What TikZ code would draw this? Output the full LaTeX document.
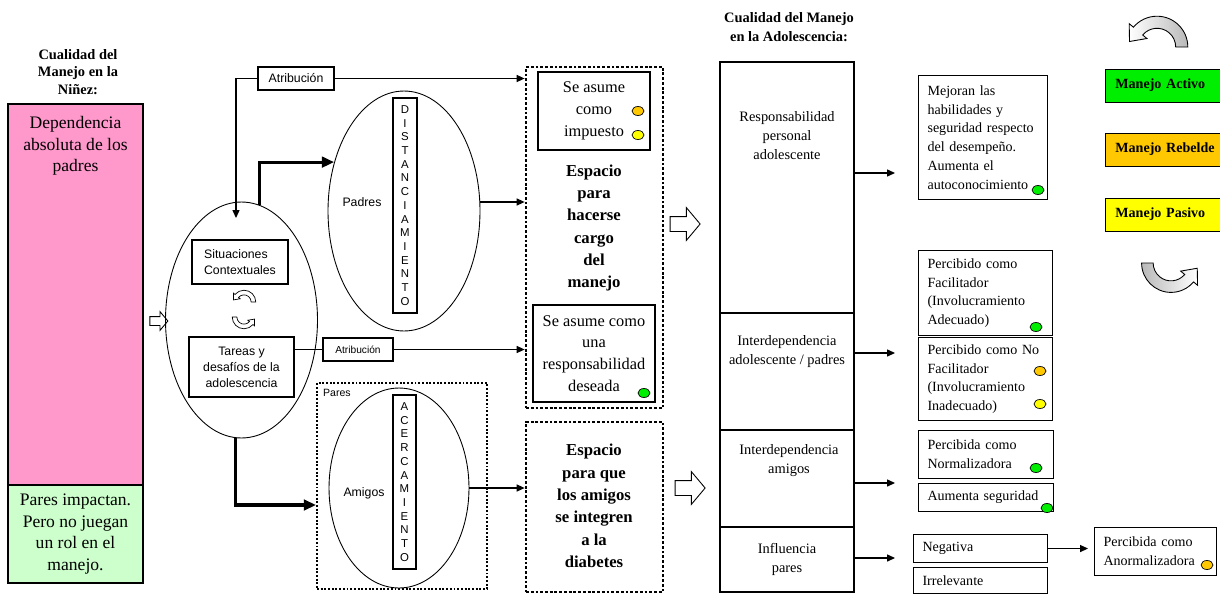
\documentclass[tikz,border=0pt]{standalone}
\usepackage{fontspec}
\setmainfont{Liberation Serif}
\setsansfont{Liberation Sans}
\usetikzlibrary{shapes.geometric, shapes.arrows, arrows.meta, positioning, calc}
\definecolor{pinkfill}{RGB}{255,153,204}
\definecolor{mintfill}{RGB}{204,255,204}
\definecolor{mgreen}{RGB}{0,238,0}
\definecolor{morange}{RGB}{255,200,0}
\definecolor{myellow}{RGB}{255,255,0}

\begin{document}
\begin{tikzpicture}[
  x=0.02cm, y=-0.02cm,
  >={Triangle[length=4.5pt,width=4pt]},
  hdr/.style={align=center, font=\bfseries\fontsize{8.2}{10}\selectfont},
  fatbox/.style={rectangle, draw, line width=1.6pt, inner sep=0pt, align=center},
  sanstxt/.style={align=center, font=\sffamily\fontsize{7}{9.2}\selectfont},
  sansbox/.style={rectangle, draw, line width=1.2pt, inner sep=0pt, sanstxt},
  letters/.style={rectangle, draw, line width=0.8pt, inner sep=0pt,
    align=center, font=\sffamily\fontsize{6.5}{7.8}\selectfont},
  oval/.style={ellipse, draw, inner sep=0pt, line width=0.5pt},
  dotbox/.style={rectangle, draw, line width=1.6pt,
    dash pattern=on 1.6pt off 1.1pt, inner sep=0pt},
  boldtxt/.style={align=center, font=\bfseries\fontsize{9.5}{12.7}\selectfont},
  midtxt/.style={align=center, font=\fontsize{9.3}{12.4}\selectfont},
  coltxt/.style={align=center, font=\fontsize{8.2}{10.8}\selectfont},
  colbox/.style={rectangle, draw, line width=0.6pt, minimum width=2.68cm, inner sep=0pt},
  outbox/.style={rectangle, draw, line width=0.6pt, anchor=north west,
    inner xsep=0.18cm, inner ysep=0pt, align=left,
    font=\fontsize{8}{10.7}\selectfont},
  legend/.style={rectangle, draw, line width=0.5pt, anchor=west,
    minimum height=0.66cm, inner xsep=0.2cm, align=left, text width=2.05cm,
    font=\bfseries\fontsize{8}{10}\selectfont},
  blob/.style={ellipse, draw, line width=0.4pt, minimum width=0.24cm,
    minimum height=0.18cm, inner sep=0pt},
  conn/.style={->, line width=0.6pt},
  fatconn/.style={-{Triangle[length=7pt,width=6pt]}, line width=1.8pt},
  hollow/.style={single arrow, draw, line width=0.5pt, fill=white,
    inner xsep=0pt, single arrow tip angle=100},
  curl/.pic={
    \draw[pic actions] (0:28) arc[start angle=0, end angle=-140, radius=28]
      -- (-140:33) -- (-25,-5) -- (-140:12) -- (-140:17)
      arc[start angle=-140, end angle=0, radius=17] -- cycle;
  }
]
\useasboundingbox (0,0) rectangle (1220,595);

% infancia
\node[hdr] (hdrninez) at (78,72) {Cualidad del\\Manejo en la\\Niñez:};
\node[fatbox, fill=pinkfill, minimum width=2.7cm, minimum height=7.62cm] (ninez) at (75.5,294.5) {};
\node[align=center, font=\fontsize{10}{12.3}\selectfont] (ninezlbl) at (75.5,146) {Dependencia\\absoluta de los\\padres};
\node[fatbox, fill=mintfill, minimum width=2.7cm, minimum height=1.96cm,
  font=\fontsize{10}{12.4}\selectfont] (pares0) at (75.5,534) {Pares impactan.\\Pero no juegan\\un rol en el\\manejo.};
\node[hollow, minimum height=0.36cm, inner ysep=0.08cm, single arrow head extend=0.1cm] (push1) at (157,321) {};

% elipse central
\node[oval, minimum width=3.04cm, minimum height=4.72cm] (ctx) at (241.5,320) {};
\node[sansbox, align=left, minimum width=1.92cm, minimum height=0.88cm] (sit) at (240,262) {Situaciones\\Contextuales};
\node[sansbox, minimum width=2.1cm, minimum height=1.2cm] (tar) at (241.5,367) {Tareas y\\desafíos de la\\adolescencia};
\pic[fill=white, scale=0.42] at (244,302) {curl};
\pic[fill=white, scale=0.42, rotate=180] at (244,317) {curl};

% padres
\node[sansbox, minimum width=1.52cm, minimum height=0.46cm] (atr1) at (296,78.5) {Atribución};
\node[oval, minimum width=3.04cm, minimum height=4.8cm] (padres) at (404,211) {};
\node[sanstxt] (padrestxt) at (362,202) {Padres};
\node[letters, minimum width=0.48cm, minimum height=4.3cm] (dist) at (405,205.5) {D\\I\\S\\T\\A\\N\\C\\I\\A\\M\\I\\E\\N\\T\\O};
\node[sansbox, line width=1pt, minimum width=1.4cm, minimum height=0.46cm,
  font=\sffamily\fontsize{5.8}{7}\selectfont] (atr2) at (358,349.5) {Atribución};

% pares
\node[dotbox, line width=1.1pt, dash pattern=on 1.1pt off 1pt, minimum width=3.4cm, minimum height=4.12cm] (paresbox) at (402,486) {};
\node[sanstxt, font=\sffamily\fontsize{6}{7}\selectfont, anchor=north west, inner sep=1pt] (parestxt) at (321,387) {Pares};
\node[oval, minimum width=2.8cm, minimum height=4cm] (amigos) at (399,488) {};
\node[sanstxt] (amigostxt) at (364,493) {Amigos};
\node[letters, minimum width=0.46cm, minimum height=3.48cm] (acer) at (404.5,482) {A\\C\\E\\R\\C\\A\\M\\I\\E\\N\\T\\O};

% espacios
\node[dotbox, minimum width=2.74cm, minimum height=6.82cm] (esp1) at (594.5,237.5) {};
\node[fatbox, line width=1.4pt, minimum width=2.24cm, minimum height=1.56cm, midtxt] (imp) at (594,111) {Se asume\\como\\impuesto};
\node[blob, fill=morange] (impo) at (638,111) {};
\node[blob, fill=myellow] (impy) at (638,135) {};
\node[boldtxt] (esp1txt) at (594,228) {Espacio\\para\\hacerse\\cargo\\del\\manejo};
\node[fatbox, line width=1.4pt, minimum width=2.44cm, minimum height=1.94cm, midtxt] (des) at (594,353.5) {Se asume como\\una\\responsabilidad\\deseada};
\node[blob, fill=mgreen] (desg) at (644,393) {};
\node[dotbox, minimum width=2.74cm, minimum height=3.4cm] (esp2) at (594.5,507) {};
\node[boldtxt] (esp2txt) at (594,506) {Espacio\\para que\\los amigos\\se integren\\a la\\diabetes};
\node[hollow, minimum height=0.6cm, inner ysep=0.14cm, single arrow head extend=0.18cm] (push2) at (682,224) {};
\node[hollow, minimum height=0.6cm, inner ysep=0.14cm, single arrow head extend=0.18cm] (push3) at (687,488) {};

% adolescencia
\node[hdr, font=\bfseries\fontsize{8.2}{11}\selectfont] (hdradol) at (789,27) {Cualidad del Manejo\\en la Adolescencia:};
\node[colbox, minimum height=5.02cm] (resp) at (787,187.5) {};
\node[colbox, minimum height=2.34cm] (inter) at (787,371.5) {};
\node[colbox, minimum height=1.94cm] (amig) at (787,478.5) {};
\node[colbox, minimum height=1.3cm] (infl) at (787,559.5) {};
\node[coltxt] (resptxt) at (787,136) {Responsabilidad\\personal\\adolescente};
\node[coltxt] (intertxt) at (787,352) {Interdependencia\\adolescente / padres};
\node[coltxt] (amigtxt) at (789,461) {Interdependencia\\amigos};
\node[coltxt] (infltxt) at (787,559) {Influencia\\pares};

% resultados
\node[outbox, text width=2.22cm, minimum height=2.48cm] (mej) at (918,75) {Mejoran las\\habilidades y\\seguridad respecto\\del desempeño.\\Aumenta el\\autoconocimiento};
\node[outbox, text width=2.32cm, minimum height=1.7cm] (fac) at (918,250) {Percibido como\\Facilitador\\(Involucramiento\\Adecuado)};
\node[outbox, text width=2.32cm, minimum height=1.66cm] (nofac) at (918,337) {Percibido como No\\Facilitador\\(Involucramiento\\Inadecuado)};
\node[outbox, text width=2.34cm, minimum height=0.96cm] (norm) at (918,430) {Percibida como\\Normalizadora};
\node[outbox, text width=2.34cm, minimum height=0.56cm] (seg) at (918,483) {Aumenta seguridad};
\node[outbox, text width=2.32cm, minimum height=0.56cm] (neg) at (913,534) {Negativa};
\node[outbox, text width=2.32cm, minimum height=0.52cm] (irr) at (913,567) {Irrelevante};
\node[outbox, text width=2.08cm, minimum height=0.96cm] (anor) at (1094,527) {Percibida como\\Anormalizadora};
\node[blob, fill=mgreen] (mejg) at (1038,190) {};
\node[blob, fill=mgreen] (facg) at (1036,327) {};
\node[blob, fill=morange] (nofaco) at (1040,371) {};
\node[blob, fill=myellow] (nofacy) at (1040,404) {};
\node[blob, fill=mgreen] (normg) at (1036,468) {};
\node[blob, fill=mgreen] (segg) at (1047,508) {};
\node[blob, fill=morange] (anoro) at (1207,565) {};

% leyenda
\node[legend, fill=mgreen] (activo) at (1105,85.5) {Manejo Activo};
\node[legend, fill=morange] (rebelde) at (1105,149.5) {Manejo Rebelde};
\node[legend, fill=myellow] (pasivo) at (1105,214.5) {Manejo Pasivo};
\pic[left color=white, right color=gray!55, line width=0.5pt, scale=1.1] at (1157,47) {curl};
\pic[left color=gray!55, right color=white, line width=0.5pt, rotate=180, scale=1.05] at (1171,263) {curl};

% conexiones
\coordinate (c1) at (236,218);
\coordinate (to1) at (895,173);
\coordinate (to2) at (895,353);
\coordinate (to3) at (895,483);
\coordinate (to4) at (895,558);
\draw[conn] (atr1.west) -| (c1);
\draw[conn] (atr1.east) -- (atr1.east -| esp1.west);
\draw[fatconn] (ctx.81) |- (padres.145);
\draw[conn] (padres.east |- padrestxt) -- (esp1.west |- padrestxt);
\draw[line width=0.6pt] (tar.east |- atr2.west) -- (atr2.west);
\draw[conn] (atr2.east) -- (atr2.east -| esp1.west);
\draw[fatconn] (ctx.267) |- ([yshift=-0.38cm]paresbox.west);
\draw[conn] (amigos.east) -- (amigos.east -| esp2.west);
\draw[conn] (resp.east |- to1) -- (to1);
\draw[conn] (inter.east |- to2) -- (to2);
\draw[conn] (amig.east |- to3) -- (to3);
\draw[conn] (infl.east |- to4) -- (to4);
\draw[conn, shorten >=0.12cm] (neg.east) -- (neg.east -| anor.west);
\end{tikzpicture}
\end{document}
